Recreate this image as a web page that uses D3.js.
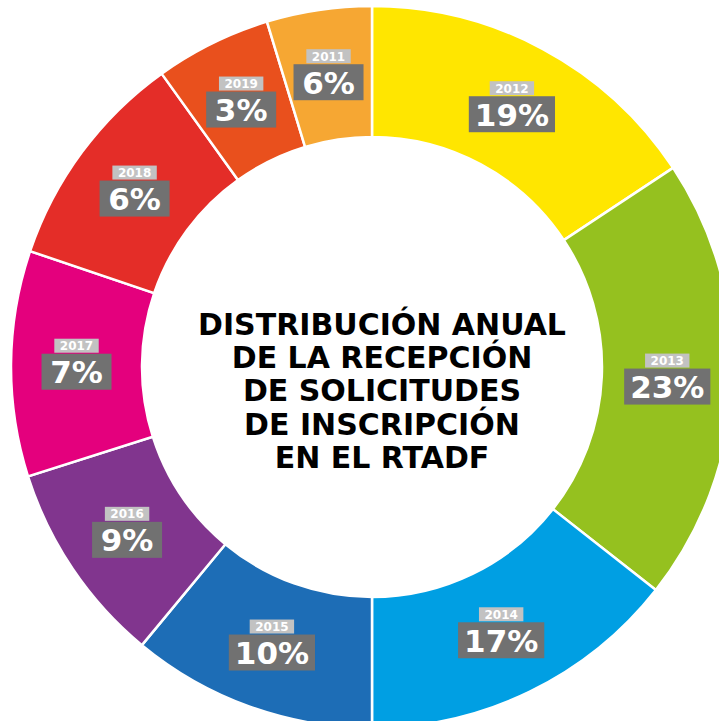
<!DOCTYPE html>
<html><head><meta charset="utf-8">
<script src="https://cdn.jsdelivr.net/npm/d3@7"></script>
<style>html,body{margin:0;padding:0;background:#fff;} svg{display:block}</style>
</head><body>
<svg id="c" width="719" height="721"></svg>
<script>
// Segments in clockwise order starting at 12 o'clock
const years = ["2012", "2013", "2014", "2015", "2016", "2017", "2018", "2019", "2011"];
// Printed percentage labels
const percents = [19, 23, 17, 10, 9, 7, 6, 3, 6];
// Arc sizes as drawn in the picture (share of the full circle, %)
const arcShares = [15.7, 19.9, 14.4, 11.0, 9.1, 10.1, 9.9, 5.2, 4.7];
const colors = ["#FFE600", "#95C11F", "#009FE3", "#1D6DB6", "#81358E", "#E4007D", "#E42D28", "#E9501D", "#F6A733"];
const titleLines = ["DISTRIBUCIÓN ANUAL", "DE LA RECEPCIÓN", "DE SOLICITUDES", "DE INSCRIPCIÓN", "EN EL RTADF"];

const cx = 372, cy = 367, rOuter = 361, rInner = 230;
const svg = d3.select("#c");
const g = svg.append("g").attr("transform", `translate(${cx},${cy})`);

const data = years.map((y, i) => ({year: y, share: arcShares[i], pct: percents[i], color: colors[i]}));
const pie = d3.pie().sort(null).value(d => d.share);
const arcs = pie(data);
const arc = d3.arc().innerRadius(rInner).outerRadius(rOuter);

g.selectAll("path.seg").data(arcs).join("path")
  .attr("class", "seg")
  .attr("d", arc)
  .attr("fill", d => d.data.color)
  .attr("stroke", "#fff")
  .attr("stroke-width", 2.5);

const font = "'DejaVu Sans', 'Liberation Sans', sans-serif";
const labels = g.selectAll("g.lab").data(arcs).join("g")
  .attr("class", "lab")
  .attr("transform", d => `translate(${arc.centroid(d)})`);

labels.each(function(d) {
  const lg = d3.select(this);
  // year tag
  const yRect = lg.append("rect").attr("fill", "#C2C2C2");
  const yText = lg.append("text").text(d.data.year)
    .attr("text-anchor", "middle").attr("y", -14)
    .attr("font-family", font).attr("font-weight", "bold").attr("font-size", 12)
    .attr("fill", "#fff");
  const yw = yText.node().getComputedTextLength() + 11;
  yRect.attr("x", -yw / 2).attr("y", -25.5).attr("width", yw).attr("height", 14);
  // percentage tag
  const pRect = lg.append("rect").attr("fill", "#717171");
  const pText = lg.append("text").text(d.data.pct + "%")
    .attr("text-anchor", "middle").attr("y", 19)
    .attr("font-family", font).attr("font-weight", "bold").attr("font-size", 31)
    .attr("fill", "#fff");
  const pw = Math.max(70, pText.node().getComputedTextLength() + 12);
  pRect.attr("x", -pw / 2).attr("y", -10.5).attr("width", pw).attr("height", 36);
});

// Center title
const title = svg.append("text")
  .attr("text-anchor", "middle")
  .attr("font-family", font).attr("font-weight", "bold").attr("font-size", 30)
  .attr("fill", "#000");
titleLines.forEach((t, i) => {
  title.append("tspan").attr("x", cx + 10).attr("y", cy - 32 + i * 33.2).text(t);
});
</script>
</body></html>
